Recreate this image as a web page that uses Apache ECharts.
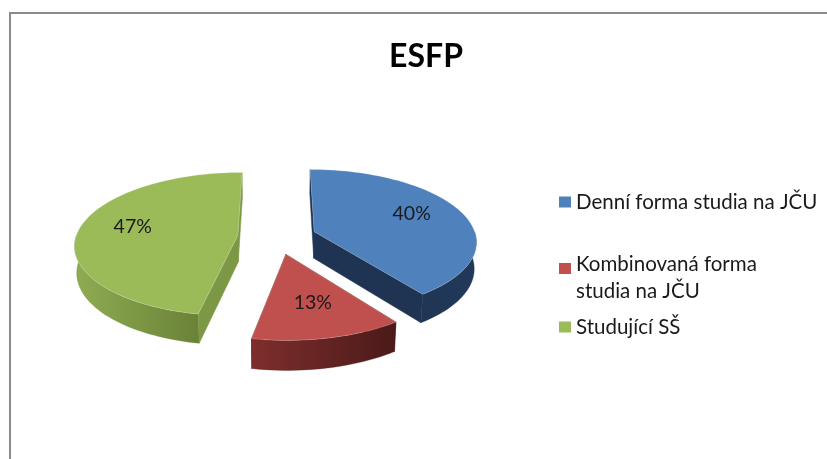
<!DOCTYPE html>
<html>
<head>
<meta charset="utf-8">
<script src="https://cdn.jsdelivr.net/npm/echarts@6/dist/echarts.min.js"></script>
<style>
html,body{margin:0;padding:0;background:#fff;}
#chart{width:827px;height:459px;}
</style>
</head>
<body>
<div id="chart"></div>
<script>
// ---- data ----
const chartTitle = 'ESFP';
const categories = ['Denní forma studia na JČU', 'Kombinovaná forma studia na JČU', 'Studující SŠ'];
const legendLabels = ['Denní forma studia na JČU', 'Kombinovaná forma\nstudia na JČU', 'Studující SŠ'];
const values = [40, 13, 47];

// ---- styles ----
const topColors = ['#4F81BD', '#C0504D', '#9BBB59'];
const wallColors = [['#1F3554', '#22395A'], ['#7E2E2C', '#4A1A19'], ['#8FAC52', '#6A8237']];
const cutColors = ['#1F3453', '#5A2120', '#7D9845'];

// ---- 3D pie geometry (rendering parameters) ----
const G = {cx: 277, cy: 237, r: 162, alpha: 26 * Math.PI / 180, dist: 1200, explode: 39.4, depth: 30, labelR: 107};
const ca = Math.cos(G.alpha), sa = Math.sin(G.alpha);
function project(X, Y, Z) {
  const d = G.dist + Y * ca - Z * sa;
  const up = Y * sa + Z * ca;
  return [G.cx + G.dist * X / d, G.cy - G.dist * up / d];
}
const total = values.reduce((a, b) => a + b, 0);
const starts = [];
let acc = 0;
values.forEach(v => { starts.push(acc / total * 360); acc += v; });
const rad = d => d * Math.PI / 180;

function sliceGeom(i) {
  const a0 = starts[i], a1 = a0 + values[i] / total * 360;
  const mid = (a0 + a1) / 2;
  const ox = G.explode * Math.sin(rad(mid)), oy = G.explode * Math.cos(rad(mid));
  return {a0, a1, mid, ox, oy};
}
function rim(g, a, z) {
  return project(g.ox + G.r * Math.sin(rad(a)), g.oy + G.r * Math.cos(rad(a)), z);
}
function arc(g, from, to, z) {
  const pts = [];
  const n = Math.max(2, Math.ceil(Math.abs(to - from) / 2));
  for (let k = 0; k <= n; k++) pts.push(rim(g, from + (to - from) * k / n, z));
  return pts;
}
function faceVisible(g, nAngle) {
  const nx = Math.sin(rad(nAngle)), ny = Math.cos(rad(nAngle));
  return nx * (0 - g.ox) + ny * (-G.dist * ca - g.oy) > 0;
}

function renderSlice(i) {
  return function (params, api) {
    const g = sliceGeom(i);
    const H = -G.depth;
    const apexT = project(g.ox, g.oy, 0), apexB = project(g.ox, g.oy, H);
    const hidden = [], visible = [];
    [[g.a0, g.a0 - 90], [g.a1, g.a1 + 90]].forEach(([a, n]) => {
      const el = {
        type: 'polygon',
        shape: {points: [apexT, rim(g, a, 0), rim(g, a, H), apexB]},
        style: {fill: cutColors[i], stroke: cutColors[i], lineWidth: 0.5}
      };
      (faceVisible(g, n) ? visible : hidden).push(el);
    });
    const children = hidden.slice();
    const w0 = Math.max(g.a0, 90), w1 = Math.min(g.a1, 270);
    if (w1 > w0) {
      const topArc = arc(g, w0, w1, 0), botArc = arc(g, w0, w1, H).reverse();
      children.push({
        type: 'polygon',
        shape: {points: topArc.concat(botArc)},
        style: {
          fill: new echarts.graphic.LinearGradient(0, 0, 1, 0, [
            {offset: 0, color: wallColors[i][0]}, {offset: 1, color: wallColors[i][1]}
          ]),
          stroke: wallColors[i][1], lineWidth: 0.3
        }
      });
    }
    visible.forEach(e => children.push(e));
    children.push({
      type: 'polygon',
      shape: {points: [apexT].concat(arc(g, g.a0, g.a1, 0))},
      style: {fill: api.visual('color'), stroke: 'rgba(255,255,255,0.35)', lineWidth: 0.6}
    });
    const lp = project(g.ox + G.labelR * Math.sin(rad(g.mid)), g.oy + G.labelR * Math.cos(rad(g.mid)), 0);
    children.push({
      type: 'text',
      style: {
        text: Math.round(api.value(0) / total * 100) + '%',
        x: lp[0], y: lp[1] - 4,
        align: 'center', verticalAlign: 'middle',
        textAlign: 'center', textVerticalAlign: 'middle',
        font: '19.5px Lato', fill: '#1a1a1a'
      }
    });
    return {type: 'group', children};
  };
}

const depthRank = categories.map((c, i) => ({i, d: sliceGeom(i).oy}))
  .sort((a, b) => b.d - a.d).map((o, k) => ({i: o.i, k}));
const zOf = {};
depthRank.forEach(o => { zOf[o.i] = 2 + o.k; });

const series = categories.map((name, i) => ({
  type: 'custom',
  name: name,
  coordinateSystem: 'none',
  z: zOf[i],
  itemStyle: {color: topColors[i]},
  renderItem: renderSlice(i),
  data: [[values[i]]],
  silent: true
}));

const legendTops = [186, 246, 311];
const legendLineH = [22, 27, 22];
const legendIcons = ['rect', 'path://M0,0H12V11H0Z M0,30L0.001,30', 'rect'];
const legendIconH = [11, 30, 11];
const legends = categories.map((name, i) => ({
  data: [name],
  orient: 'vertical',
  left: 554,
  top: legendTops[i],
  itemWidth: 12,
  itemHeight: legendIconH[i],
  icon: legendIcons[i],
  selectedMode: false,
  formatter: () => legendLabels[i],
  textStyle: {fontFamily: 'Lato', fontSize: 20.5, color: '#1a1a1a', lineHeight: legendLineH[i]}
}));

const chart = echarts.init(document.getElementById('chart'), null, {renderer: 'canvas'});
chart.setOption({
  backgroundColor: '#ffffff',
  animation: false,
  title: {
    text: chartTitle, left: 421, top: 36, textAlign: 'center',
    textStyle: {fontFamily: 'Lato', fontWeight: 'bold', fontSize: 32, color: '#000'}
  },
  legend: legends,
  graphic: [{
    type: 'rect', silent: true, z: 0,
    shape: {x: 10, y: 13, width: 840, height: 470},
    style: {fill: 'none', stroke: '#8a8a8a', lineWidth: 2}
  }],
  series: series
});
</script>
</body>
</html>
